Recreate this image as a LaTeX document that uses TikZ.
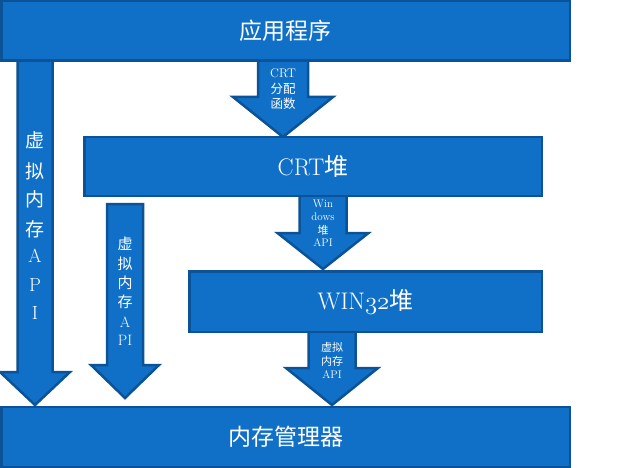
\documentclass[tikz,border=0pt]{standalone}
\usepackage{fontspec}
\newfontfamily\cjk{Noto Sans CJK SC}
\newcommand\osnum[1]{{\usefont{OML}{lmm}{m}{it}#1}}
\usetikzlibrary{calc}
\definecolor{boxfill}{RGB}{16,112,200}
\definecolor{boxline}{RGB}{11,82,150}
\tikzset{
  blk/.style={fill=boxfill, draw=boxline, line width=2.5pt, line join=miter},
  boxnode/.style={blk, inner sep=0pt, text=white},
  lbl/.style={text=white, inner sep=0pt},
  big/.style={font=\fontsize{23}{26}\selectfont},
  huge/.style={font=\fontsize{24}{28}\selectfont},
  mid/.style={font=\fontsize{12.5}{14}\selectfont},
  small/.style={font=\fontsize{11}{13}\selectfont},
}
% #1 start coordinate, #2 tip coordinate, #3 head length, #4 half shaft, #5 half head
\newcommand\BlockArr[5]{%
  \draw[blk] let \p1=(#1), \p2=(#2) in
    (\x1-#4,\y1) -- (\x1+#4,\y1) -- (\x1+#4,\y2+#3) -- (\x1+#5,\y2+#3) --
    (\x2,\y2) -- (\x1-#5,\y2+#3) -- (\x1-#4,\y2+#3) -- cycle;}
\begin{document}
\begin{tikzpicture}[x=1pt,y=-1pt]
\useasboundingbox (0,0) rectangle (621,468);
% arrow end points
\coordinate (a1s) at (283,55);  \coordinate (a1e) at (283,137);
\coordinate (a2s) at (323,190); \coordinate (a2e) at (323,269);
\coordinate (a3s) at (332,326); \coordinate (a3e) at (332,405);
\coordinate (a4s) at (35,55);   \coordinate (a4e) at (35,405);
\coordinate (a5s) at (125,204); \coordinate (a5e) at (125,398);
% block arrows
\BlockArr{a1s}{a1e}{40}{25}{50}
\BlockArr{a2s}{a2e}{36}{23.5}{45.5}
\BlockArr{a3s}{a3e}{37}{23.5}{46}
\BlockArr{a4s}{a4e}{33}{17.5}{35}
\BlockArr{a5s}{a5e}{33}{18}{34}
% boxes
\node[boxnode, minimum width=568.5pt, minimum height=59.5pt, big] (app) at (285.5,31) {\cjk 应用程序};
\node[boxnode, minimum width=457.5pt, minimum height=58.5pt, huge] (crt) at (313,166.5) {CRT{\cjk 堆}};
\node[boxnode, minimum width=352.5pt, minimum height=60.5pt, huge] (win) at (365.5,301.5) {WIN\osnum{32}{\cjk 堆}};
\node[boxnode, minimum width=568.5pt, minimum height=60.5pt, big] (mem) at (285.5,437) {\cjk 内存管理器};
% arrow labels
\node[lbl, mid] (t1a) at (283,73) {CRT};
\node[lbl, mid] (t1b) at (283,89) {\cjk 分配};
\node[lbl, mid] (t1c) at (283,104) {\cjk 函数};
\node[lbl, small] (t2a) at (323,204) {Win};
\node[lbl, small] (t2b) at (323,217) {dows};
\node[lbl, small] (t2c) at (323,230) {\cjk 堆};
\node[lbl, small] (t2d) at (323,243) {API};
\node[lbl, small] (t3a) at (332,347) {\cjk 虚拟};
\node[lbl, small] (t3b) at (332,361) {\cjk 内存};
\node[lbl, small] (t3c) at (332,375) {API};
\begin{scope}[every node/.style={lbl, font=\fontsize{19}{22}\selectfont}]
\node (t4a) at (35,140) {\cjk 虚};
\node (t4b) at (35,171) {\cjk 拟};
\node (t4c) at (35,199) {\cjk 内};
\node (t4d) at (35,229) {\cjk 存};
\node (t4e) at (35,256) {A};
\node (t4f) at (35,285) {P};
\node (t4g) at (35,313) {I};
\end{scope}
\begin{scope}[every node/.style={lbl, font=\fontsize{15}{18}\selectfont}]
\node (t5a) at (125,244) {\cjk 虚};
\node (t5b) at (125,264) {\cjk 拟};
\node (t5c) at (125,283) {\cjk 内};
\node (t5d) at (125,302) {\cjk 存};
\node (t5e) at (125,322) {A};
\node (t5f) at (125,340) {PI};
\end{scope}
\end{tikzpicture}
\end{document}
